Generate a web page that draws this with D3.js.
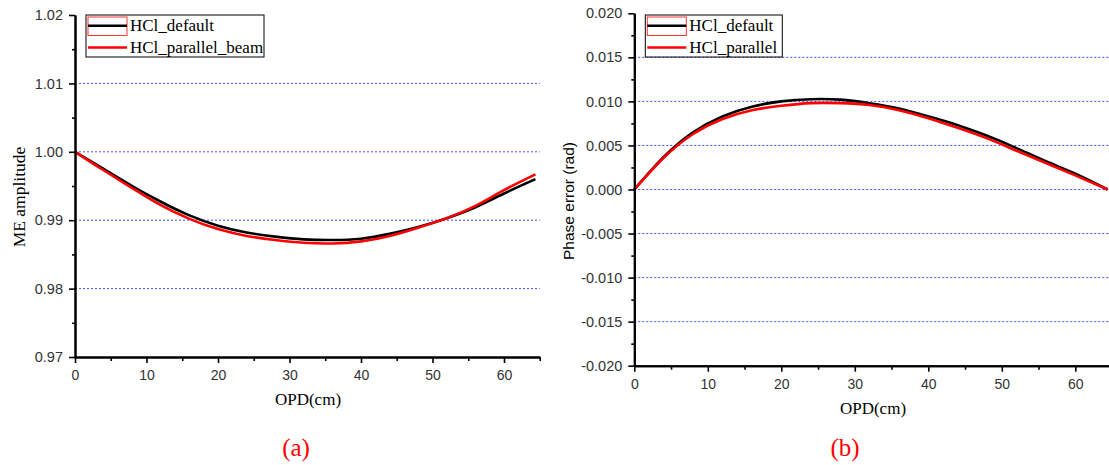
<!DOCTYPE html>
<html>
<head>
<style>
  body { margin: 0; background: #fff; }
  .tick text { fill: #333; font-family: Arial, "Liberation Sans", sans-serif; }
  .grid line { stroke: #4a4aff; stroke-width: 1; stroke-dasharray: 2,2; }
</style>
</head>
<body>
<svg width="1109" height="465"></svg>
<script src="https://d3js.org/d3.v7.min.js"></script>
<script>
// OPD sample points (cm)
var opd = [0, 4, 8, 12, 16, 20, 24, 28, 32, 36, 40, 44, 48, 52, 56, 60, 64.4];

// (a) ME amplitude
var ampDefault  = [1.0000, 0.9975, 0.9950, 0.9927, 0.9907, 0.9892, 0.9882, 0.9876, 0.9872, 0.9871, 0.9873, 0.9880, 0.9890, 0.9903, 0.9919, 0.9939, 0.9960];
var ampParallel = [1.0000, 0.9973, 0.9947, 0.9922, 0.9902, 0.9887, 0.9877, 0.9871, 0.9867, 0.9866, 0.9869, 0.9877, 0.9889, 0.9903, 0.9921, 0.9944, 0.9967];

// (b) phase error (rad)
var phaseDefault  = [0, 0.0037, 0.0065, 0.0083, 0.0094, 0.0100, 0.01025, 0.0102, 0.0098, 0.0092, 0.0083, 0.0073, 0.0061, 0.0047, 0.0032, 0.0018, 0];
var phaseParallel = [0, 0.0036, 0.0063, 0.0080, 0.0090, 0.0095, 0.0098, 0.0098, 0.0096, 0.0090, 0.0081, 0.0070, 0.0058, 0.0044, 0.0030, 0.0016, 0];

var xMajor = [0, 10, 20, 30, 40, 50, 60];
var xMinor = [5, 15, 25, 35, 45, 55, 65];
var ampMajor = [0.97, 0.98, 0.99, 1.00, 1.01, 1.02];
var ampMinor = [0.975, 0.985, 0.995, 1.005, 1.015];
var ampGrid = [0.98, 0.99, 1.00, 1.01];
var phaseMajor = [-0.020, -0.015, -0.010, -0.005, 0.000, 0.005, 0.010, 0.015, 0.020];
var phaseMinor = [-0.0175, -0.0125, -0.0075, -0.0025, 0.0025, 0.0075, 0.0125, 0.0175];
var phaseGrid = [-0.015, -0.010, -0.005, 0.000, 0.005, 0.010, 0.015];

var svg = d3.select('svg');

function panel(o) {
  var x = d3.scaleLinear().domain([0, 65]).range([o.left, o.left + 65 * o.xUnit]);
  var y = d3.scaleLinear().domain(o.yDomain).range([o.bottom, o.top]);
  var g = svg.append('g');

  // dotted grid
  g.append('g').attr('class', 'grid')
    .selectAll('line').data(o.grid).enter().append('line')
    .attr('x1', x(0)).attr('x2', x(65))
    .attr('y1', function(d) { return y(d); })
    .attr('y2', function(d) { return y(d); });

  // curves
  var line = d3.line()
    .x(function(d) { return x(d[0]); })
    .y(function(d) { return y(d[1]); })
    .curve(d3.curveNatural);
  o.series.forEach(function(s) {
    g.append('path')
      .datum(opd.map(function(v, i) { return [v, s.values[i]]; }))
      .attr('fill', 'none')
      .attr('stroke', s.color)
      .attr('stroke-width', 2.6)
      .attr('d', line);
  });

  // axes
  var ya = g.append('g').attr('transform', 'translate(' + o.left + ',0)')
    .call(d3.axisLeft(y).tickValues(o.yMajor).tickSize(6).tickSizeOuter(0).tickPadding(6)
      .tickFormat(function(d) { return d.toFixed(o.yDigits); }));
  g.append('g').attr('transform', 'translate(' + o.left + ',0)')
    .call(d3.axisLeft(y).tickValues(o.yMinor).tickSize(3).tickSizeOuter(0).tickFormat(''));
  var xa = g.append('g').attr('transform', 'translate(0,' + o.bottom + ')')
    .call(d3.axisBottom(x).tickValues(xMajor).tickSize(6).tickSizeOuter(0).tickPadding(7));
  g.append('g').attr('transform', 'translate(0,' + o.bottom + ')')
    .call(d3.axisBottom(x).tickValues(xMinor).tickSize(4).tickSizeOuter(0).tickFormat(''));
  g.selectAll('.domain').attr('stroke', '#000').attr('stroke-width', 2);
  g.selectAll('.tick line').attr('stroke', '#000').attr('stroke-width', 1.6);
  ya.selectAll('text').attr('font-size', 14.5);
  xa.selectAll('text').attr('font-size', 14);

  // axis titles
  g.append('text').attr('x', o.xTitleX).attr('y', o.bottom + 48)
    .attr('text-anchor', 'middle')
    .style('font-family', '"Times New Roman", "Liberation Serif", serif')
    .style('font-size', '17px').text('OPD(cm)');
  g.append('text')
    .attr('transform', 'translate(' + o.yTitleX + ',' + o.yTitleY + ') rotate(-90)')
    .attr('text-anchor', 'middle')
    .style('font-family', o.yTitleFont)
    .style('font-size', o.yTitleSize)
    .text(o.yTitle);

  // legend
  var lg = g.append('g').attr('transform', 'translate(' + (o.left + 11) + ',15)');
  lg.append('rect').attr('width', o.legendW).attr('height', 42)
    .attr('fill', '#fff').attr('stroke', '#000').attr('stroke-width', 1);
  lg.append('rect').attr('x', 2).attr('y', 2).attr('width', 39).attr('height', 18.5)
    .attr('fill', 'none').attr('stroke', '#f33').attr('stroke-width', 1);
  o.series.forEach(function(s, i) {
    var yy = 10.7 + i * 21.8;
    lg.append('line').attr('x1', 2).attr('x2', 41).attr('y1', yy).attr('y2', yy)
      .attr('stroke', s.color).attr('stroke-width', 2.6);
    lg.append('text').attr('x', 44).attr('y', yy + 5.5)
      .style('font-family', '"Times New Roman", "Liberation Serif", serif')
      .style('font-size', '17px').text(s.name);
  });

  // caption
  svg.append('text').attr('x', o.captionX).attr('y', 456)
    .attr('text-anchor', 'middle').attr('fill', '#f00')
    .style('font-family', '"Times New Roman", "Liberation Serif", serif')
    .style('font-size', '25px').text(o.caption);
}

panel({
  left: 75, xUnit: 7.15, top: 15, bottom: 357,
  yDomain: [0.97, 1.02], yMajor: ampMajor, yMinor: ampMinor, grid: ampGrid, yDigits: 2,
  yTitle: 'ME amplitude', yTitleX: 25, yTitleY: 197,
  yTitleFont: '"Times New Roman", "Liberation Serif", serif', yTitleSize: '17.5px',
  xTitleX: 308, legendW: 178,
  series: [
    { name: 'HCl_default', values: ampDefault, color: '#000' },
    { name: 'HCl_parallel_beam', values: ampParallel, color: '#f00' }
  ],
  caption: '(a)', captionX: 296
});

panel({
  left: 634.3, xUnit: 7.35, top: 13.3, bottom: 365.7,
  yDomain: [-0.02, 0.02], yMajor: phaseMajor, yMinor: phaseMinor, grid: phaseGrid, yDigits: 3,
  yTitle: 'Phase error (rad)', yTitleX: 574, yTitleY: 201,
  yTitleFont: 'Arial, "Liberation Sans", sans-serif', yTitleSize: '15.5px',
  xTitleX: 873, legendW: 137,
  series: [
    { name: 'HCl_default', values: phaseDefault, color: '#000' },
    { name: 'HCl_parallel', values: phaseParallel, color: '#f00' }
  ],
  caption: '(b)', captionX: 845
});
</script>
</body>
</html>
